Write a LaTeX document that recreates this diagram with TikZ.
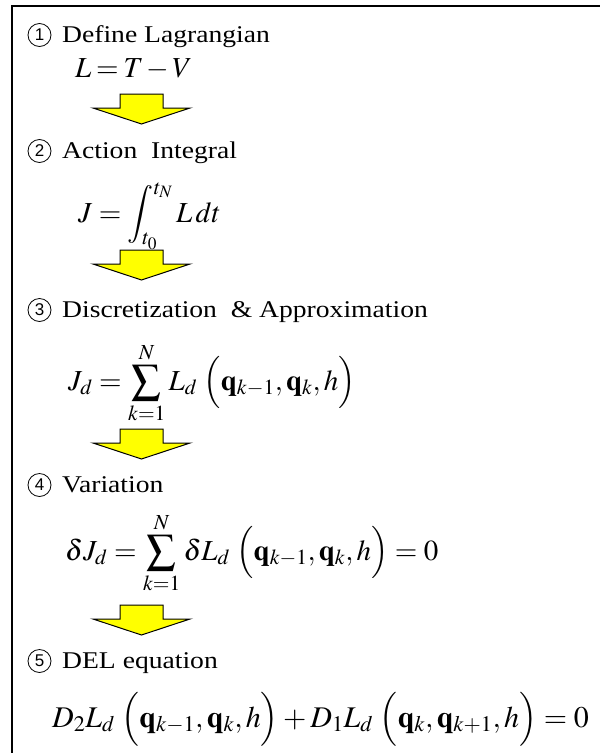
\documentclass[tikz,border=0pt]{standalone}
\usepackage{mathptmx}
\usepackage[no-math]{fontspec}
\setmainfont{Liberation Serif}
\newfontfamily\hdrfont{Liberation Serif}[FakeStretch=1.15]
\newfontfamily\cnumfont{Liberation Sans}
\definecolor{arrowyellow}{RGB}{255,255,0}
\tikzset{
  hdr/.style={anchor=base west, inner sep=0pt, font=\fontsize{24}{28}\selectfont\hdrfont},
  cnum/.style={circle, draw=black, line width=0.8pt, minimum size=23pt, inner sep=0pt, font=\fontsize{17}{19}\selectfont\cnumfont},
  eqn/.style={anchor=base west, inner sep=0pt, font=\fontsize{29}{34}\selectfont},
  eqnbig/.style={anchor=base west, inner sep=0pt, font=\fontsize{30}{35}\selectfont},
  arrowbody/.style={draw=black, line width=1pt, fill=arrowyellow, line join=miter},
  yarrow/.pic={\draw[arrowbody] (-21.5,0) -- (21.5,0) -- (21.5,14) -- (48.5,14) -- (0,30) -- (-48.5,14) -- (-21.5,14) -- cycle;}
}
\newcommand{\pgap}{\;}
\begin{document}
\begin{tikzpicture}[x=1pt,y=-1pt]
\useasboundingbox (0,0) rectangle (600,753);
\fill[white] (0,0) rectangle (600,753);
\draw[line width=2pt] (12,753) coordinate (bl) -- (12,6) coordinate (tl) -- (600,6) coordinate (tr);

\node[cnum] (c1) at (39.5,35) {1};
\node[hdr] (h1) at (62,42) {Define Lagrangian};
\node[eqn] (e1) at (75,77) {$\thickmuskip=3mu\medmuskip=2mu L=T-V$};
\pic (a1) at (141.5,94) {yarrow};

\node[cnum] (c2) at (39.5,151) {2};
\node[hdr] (h2) at (62,158) {Action\ \ Integral};
\node[eqn] (e2) at (78,222) {$\displaystyle J=\int_{t_0}^{t_N} L\,dt$};
\pic (a2) at (141.5,250) {yarrow};

\node[cnum] (c3) at (39.5,310) {3};
\node[hdr] (h3) at (62,317) {Discretization\ \ \& Approximation};
\node[eqn] (e3) at (68,390) {$\displaystyle J_d=\sum_{k=1}^{N} L_d\pgap\Bigl(\mathbf{q}_{k-1},\mathbf{q}_k,h\Bigr)$};
\pic (a3) at (141.5,429) {yarrow};

\node[cnum] (c4) at (39.5,485) {4};
\node[hdr] (h4) at (62,492) {Variation};
\node[eqn] (e4) at (65,560) {$\displaystyle \delta J_d=\sum_{k=1}^{N}\delta L_d\pgap\Bigl(\mathbf{q}_{k-1},\mathbf{q}_k,h\Bigr)=0$};
\pic (a4) at (141.5,605) {yarrow};

\node[cnum] (c5) at (39.5,661) {5};
\node[hdr] (h5) at (62,668) {DEL equation};
\node[eqnbig] (e5) at (52,727) {$D_2L_d\pgap\Bigl(\mathbf{q}_{k-1},\mathbf{q}_k,h\Bigr)+D_1L_d\pgap\Bigl(\mathbf{q}_{k},\mathbf{q}_{k+1},h\Bigr)=0$};
\end{tikzpicture}
\end{document}
